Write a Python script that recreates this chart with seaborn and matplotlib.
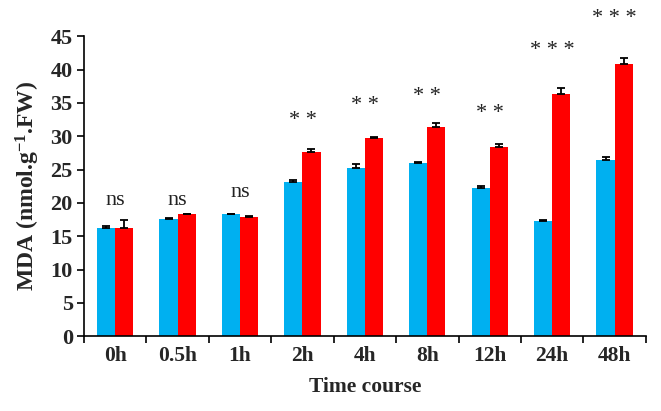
import numpy as np
import pandas as pd
import matplotlib
matplotlib.use("Agg")
import matplotlib.pyplot as plt
import seaborn as sns

# ---- data ----
times = ["0h", "0.5h", "1h", "2h", "4h", "8h", "12h", "24h", "48h"]
control = [16.2, 17.6, 18.3, 23.2, 25.2, 26.0, 22.2, 17.3, 26.4]
control_err = [0.3, 0.2, 0.1, 0.3, 0.7, 0.1, 0.3, 0.1, 0.5]
treated = [16.3, 18.3, 17.9, 27.6, 29.8, 31.4, 28.4, 36.3, 40.9]
treated_err = [1.1, 0.1, 0.2, 0.5, 0.1, 0.6, 0.5, 1.0, 0.9]
signif = ["ns", "ns", "ns", "* *", "* *", "* *", "* *", "* * *", "* * *"]
signif_y = [20.4, 20.4, 21.6, 32.3, 34.6, 36.0, 33.4, 42.8, 47.6]

blue = "#00B0F0"
red = "#FF0000"

df = pd.DataFrame({
    "time": times * 2,
    "value": control + treated,
    "group": ["control"] * len(times) + ["treated"] * len(times),
})

sns.set_style("white")
plt.rcParams["font.family"] = ["Liberation Serif", "DejaVu Serif"]
plt.rcParams["mathtext.fontset"] = "custom"
plt.rcParams["mathtext.bf"] = "Liberation Serif:bold"
plt.rcParams["mathtext.rm"] = "Liberation Serif"

fig = plt.figure(figsize=(6.61, 4.11), dpi=100)
ax = fig.add_axes([0.127, 0.182, 0.85, 0.73])

sns.barplot(data=df, x="time", y="value", hue="group", order=times,
            palette=[blue, red], width=0.58, errorbar=None, saturation=1,
            linewidth=0, edgecolor="none", ax=ax, legend=False)

# one-sided error bars (upper only)
bars_c = ax.patches[:len(times)]
bars_t = ax.patches[len(times):2 * len(times)]
for bars, vals, errs in [(bars_c, control, control_err), (bars_t, treated, treated_err)]:
    xs = [b.get_x() + b.get_width() / 2 for b in bars]
    ax.errorbar(xs, vals, yerr=[np.zeros(len(errs)), errs], fmt="none",
                ecolor="black", elinewidth=1.3, capsize=3, capthick=1.3)

# significance labels
for i, (txt, yv) in enumerate(zip(signif, signif_y)):
    ax.text(i, yv, txt, ha="center", va="center", fontsize=16,
            color="#222222", clip_on=False)

ax.set_ylim(0, 45)
ax.set_xlim(-0.5, len(times) - 0.5)
ax.set_yticks(np.arange(0, 46, 5))

ax.set_xticks(np.arange(-0.5, len(times), 1.0), minor=True)
ax.tick_params(axis="x", which="major", length=0, pad=7, labelsize=15.5)
ax.tick_params(axis="x", which="minor", length=5, width=1.2, direction="out",
               color="black", bottom=True)
ax.tick_params(axis="y", length=5, width=1.2, direction="out", left=True,
               labelsize=16, color="black", pad=3)
for lab in ax.get_xticklabels() + ax.get_yticklabels():
    lab.set_fontweight("bold")

for side in ["top", "right"]:
    ax.spines[side].set_visible(False)
for side in ["left", "bottom"]:
    ax.spines[side].set_color("black")
    ax.spines[side].set_linewidth(1.2)

ax.set_xlabel("Time course", fontsize=15.5, fontweight="bold", labelpad=8)
ax.set_ylabel(r"MDA (nmol.g$\mathbf{^{-1}}$.FW)", fontsize=17,
              fontweight="bold", labelpad=6)

fig.savefig("out.png", dpi=100)
